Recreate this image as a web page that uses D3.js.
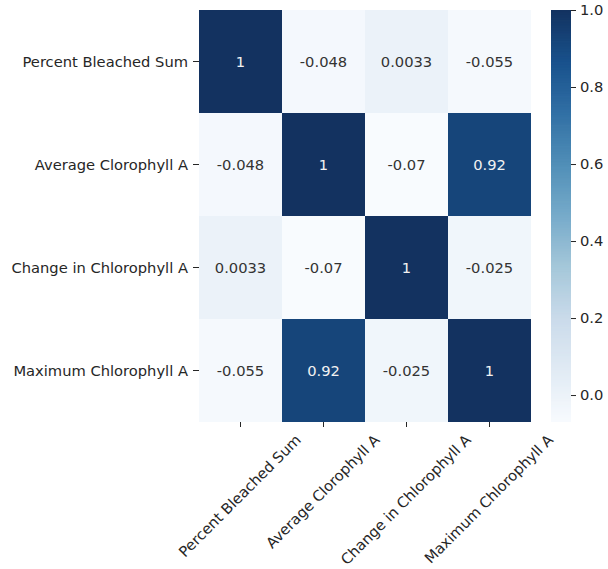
<!DOCTYPE html>
<html>
<head>
<meta charset="utf-8">
<script src="https://cdn.jsdelivr.net/npm/d3@7"></script>
<style>
  body { margin: 0; background: #fff; }
  text { font-family: "DejaVu Sans", sans-serif; }
</style>
</head>
<body>
<svg id="chart" width="608" height="569"></svg>
<script>
var labels = ["Percent Bleached Sum", "Average Clorophyll A", "Change in Chlorophyll A", "Maximum Chlorophyll A"];
var matrix = [
  [1, -0.048, 0.0033, -0.055],
  [-0.048, 1, -0.07, 0.92],
  [0.0033, -0.07, 1, -0.025],
  [-0.055, 0.92, -0.025, 1]
];
var cbarTicks = [0, 0.2, 0.4, 0.6, 0.8, 1.0];
// matplotlib "Blues" stops
var blues = ["#f7fbff", "#deebf7", "#c6dbef", "#9ecae1", "#6baed6", "#4292c6", "#2171b5", "#08519c", "#08306b"];

var svg = d3.select('#chart');
var fs = 14.7;
var loc = d3.formatLocale({decimal: ".", thousands: ",", grouping: [3], currency: ["", ""], minus: "-"});
var annot = loc.format('.2~g');

var heat = { left: 199, top: 10, right: 531, bottom: 422 };

var x = d3.scaleBand().domain(d3.range(labels.length)).range([heat.left, heat.right]);
var y = d3.scaleBand().domain(d3.range(labels.length)).range([heat.top, heat.bottom]);

var vmin = d3.min(matrix, function(r){ return d3.min(r); }),
    vmax = d3.max(matrix, function(r){ return d3.max(r); });
var cmap = d3.scaleLinear()
  .domain(d3.range(blues.length).map(function(i){ return i / (blues.length - 1); }))
  .range(blues).interpolate(d3.interpolateRgb).clamp(true);
var norm = d3.scaleLinear().domain([vmin, vmax]).range([0, 1]);
function color(v){
  var c = d3.hsl(cmap(norm(v)));
  c.s = c.s * 0.78;
  return c.formatHex();
}

var cells = [];
matrix.forEach(function(row, i){
  row.forEach(function(v, j){ cells.push({row: i, col: j, value: v}); });
});

svg.append('g').selectAll('rect')
  .data(cells)
  .enter().append('rect')
    .attr('x', function(d){ return x(d.col); })
    .attr('y', function(d){ return y(d.row); })
    .attr('width', x.bandwidth())
    .attr('height', y.bandwidth())
    .attr('fill', function(d){ return color(d.value); });

svg.append('g').selectAll('text')
  .data(cells)
  .enter().append('text')
    .attr('x', function(d){ return x(d.col) + x.bandwidth()/2; })
    .attr('y', function(d){ return y(d.row) + y.bandwidth()/2; })
    .attr('text-anchor', 'middle')
    .attr('dominant-baseline', 'central')
    .attr('font-size', fs)
    .attr('fill', function(d){
      var c = d3.rgb(color(d.value));
      var lum = (0.2126*c.r + 0.7152*c.g + 0.0722*c.b)/255;
      return lum < 0.408 ? '#f2f2f2' : '#333333';
    })
    .text(function(d){ return annot(d.value); });

// y axis
var yAxis = svg.append('g');
labels.forEach(function(l, i){
  var cy = y(i) + y.bandwidth()/2;
  yAxis.append('line').attr('x1', heat.left - 6).attr('x2', heat.left)
    .attr('y1', cy).attr('y2', cy).attr('stroke', '#262626').attr('stroke-width', 1);
  yAxis.append('text').attr('x', heat.left - 11).attr('y', cy)
    .attr('text-anchor', 'end').attr('dominant-baseline', 'central')
    .attr('font-size', fs).attr('fill', '#262626').text(l);
});

// x axis, rotated labels centred under the tick
var xAxis = svg.append('g');
labels.forEach(function(l, j){
  var cx = x(j) + x.bandwidth()/2;
  xAxis.append('line').attr('x1', cx).attr('x2', cx)
    .attr('y1', heat.bottom).attr('y2', heat.bottom + 5)
    .attr('stroke', '#262626').attr('stroke-width', 1);
  var t = xAxis.append('text')
    .attr('text-anchor', 'middle').attr('dominant-baseline', 'central')
    .attr('font-size', fs).attr('fill', '#262626').text(l);
  var w = t.node().getComputedTextLength(), h = fs * 1.15;
  var half = (w + h) * Math.SQRT1_2 / 2;
  t.attr('transform', 'translate(' + (cx - 1) + ',' + (heat.bottom + 9 + half) + ') rotate(-45)');
});

// colorbar
var cb = { left: 551, right: 571 };
var cy = d3.scaleLinear().domain([vmin, vmax]).range([heat.bottom, heat.top]);
var steps = d3.range(0, 256).map(function(i){ return vmin + (vmax - vmin) * i / 255; });
var cbar = svg.append('g');
cbar.selectAll('rect')
  .data(steps)
  .enter().append('rect')
    .attr('x', cb.left)
    .attr('width', cb.right - cb.left)
    .attr('y', function(d){ return Math.max(heat.top, cy(d) - 1.2); })
    .attr('height', function(d){ return Math.min(heat.bottom, cy(d) + 1.2) - Math.max(heat.top, cy(d) - 1.2); })
    .attr('fill', function(d){ return color(d); });

svg.append('g')
  .attr('transform', 'translate(' + cb.right + ',0)')
  .call(d3.axisRight(cy).tickValues(cbarTicks).tickFormat(d3.format('.1f')).tickSize(5).tickPadding(4))
  .call(function(g){
    g.select('.domain').remove();
    g.selectAll('.tick line').attr('stroke', '#262626');
    g.selectAll('.tick text').attr('font-size', fs).attr('fill', '#262626')
      .attr('font-family', '"DejaVu Sans", sans-serif');
  });
</script>
</body>
</html>
